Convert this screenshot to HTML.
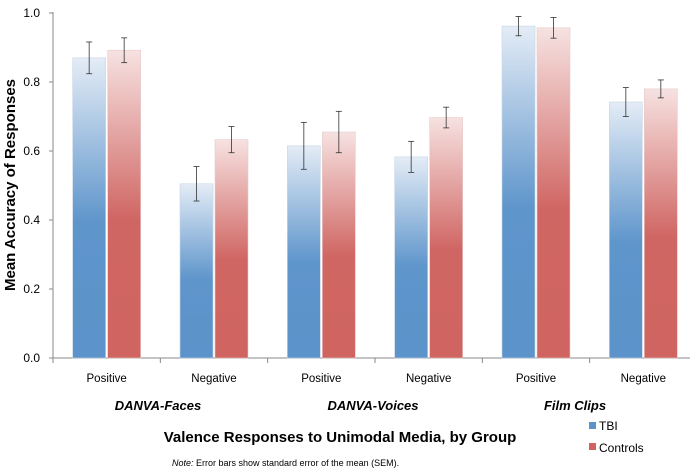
<!DOCTYPE html>
<html><head><meta charset="utf-8"><style>
body{margin:0;background:#fff;}
svg{display:block;font-family:"Liberation Sans",sans-serif;}
</style></head><body>
<svg id="chart" width="700" height="473">
<defs>
<linearGradient id="gb" x1="0" y1="0" x2="0" y2="1"><stop offset="0" stop-color="#e4ecf6"/><stop offset="0.55" stop-color="#5e95cb"/><stop offset="1" stop-color="#5b93ca"/></linearGradient>
<linearGradient id="gr" x1="0" y1="0" x2="0" y2="1"><stop offset="0" stop-color="#f6e2e1"/><stop offset="0.55" stop-color="#d06663"/><stop offset="1" stop-color="#cf6460"/></linearGradient>
</defs>
<g id="axes"></g>
<g id="bars"></g>
<text x="15" y="185" transform="rotate(-90 15 185)" text-anchor="middle" font-size="15" font-weight="bold">Mean Accuracy of Responses</text>
<text x="158" y="410" text-anchor="middle" font-size="13" font-weight="bold" font-style="italic">DANVA-Faces</text>
<text x="373" y="410" text-anchor="middle" font-size="13" font-weight="bold" font-style="italic">DANVA-Voices</text>
<text x="575" y="410" text-anchor="middle" font-size="13" font-weight="bold" font-style="italic">Film Clips</text>
<text x="340" y="442" text-anchor="middle" font-size="15" font-weight="bold">Valence Responses to Unimodal Media, by Group</text>
<g>
<rect x="589" y="422" width="7" height="7" fill="#5b93ca"/>
<text x="599" y="430" font-size="12">TBI</text>
<rect x="589" y="443" width="7" height="7" fill="#cf6460"/>
<text x="599" y="452" font-size="12">Controls</text>
</g>
<text x="172" y="466" font-size="9"><tspan font-style="italic">Note:</tspan> Error bars show standard error of the mean (SEM).</text>
</svg>
<script>
const categories=["Positive","Negative","Positive","Negative","Positive","Negative"];
const tbiValues=[0.87,0.505,0.615,0.583,0.962,0.742];
const controlValues=[0.892,0.633,0.655,0.697,0.957,0.78];
const tbiErr=[0.046,0.05,0.068,0.045,0.028,0.042];
const controlErr=[0.036,0.038,0.06,0.03,0.03,0.026];
const yTicks=[0,0.2,0.4,0.6,0.8,1.0];
const NS="http://www.w3.org/2000/svg";
const x0=53,x1=697,yTop=13,yBot=358;
const y=v=>yBot-(yBot-yTop)*v;
const band=(x1-x0)/categories.length;
function mk(tag,attrs,parent){const e=document.createElementNS(NS,tag);for(const k in attrs)e.setAttribute(k,attrs[k]);parent.appendChild(e);return e;}
const axes=document.getElementById('axes'),bars=document.getElementById('bars');
let a=mk('line',{x1:x0,y1:yTop-1,x2:x0,y2:yBot,stroke:'#888'},axes);


a=mk('line',{x1:x0,y1:yBot,x2:x1-7,y2:yBot,stroke:'#888'},axes);


yTicks.forEach(t=>{
 mk('line',{x1:x0-4,y1:y(t),x2:x0,y2:y(t),stroke:'#888'},axes);
 const tx=mk('text',{x:x0-13,y:y(t)+4,'text-anchor':'end','font-size':12},axes);
 tx.textContent=t.toFixed(1);
 
 
});
for(let i=0;i<categories.length;i++)mk('line',{x1:x0+band*i,y1:yBot,x2:x0+band*i,y2:yBot+5,stroke:'#888'},axes);
function err(cx,v,e){
 mk('line',{x1:cx,y1:y(v+e),x2:cx,y2:y(v-e),stroke:'#333','stroke-width':0.8},bars);
 mk('line',{x1:cx-3,y1:y(v+e),x2:cx+3,y2:y(v+e),stroke:'#333','stroke-width':0.8},bars);
 mk('line',{x1:cx-3,y1:y(v-e),x2:cx+3,y2:y(v-e),stroke:'#333','stroke-width':0.8},bars);
}
const bw=33;
categories.forEach((c,i)=>{
 const cx=x0+band*(i+0.5);
 let r=mk('rect',{x:cx-bw-1,y:y(tbiValues[i]),width:bw,height:yBot-y(tbiValues[i]),fill:'url(#gb)',stroke:'#c9d6e6','stroke-width':0.6},bars);
 
 
 r=mk('rect',{x:cx+1,y:y(controlValues[i]),width:bw,height:yBot-y(controlValues[i]),fill:'url(#gr)',stroke:'#e6cccb','stroke-width':0.6},bars);
 
 
 err(cx-bw/2-1,tbiValues[i],tbiErr[i]);
 err(cx+bw/2+1,controlValues[i],controlErr[i]);
 const t=mk('text',{x:cx,y:382,'text-anchor':'middle','font-size':11.5},axes);
 t.textContent=c;
 
 
});
</script>
</body></html>
